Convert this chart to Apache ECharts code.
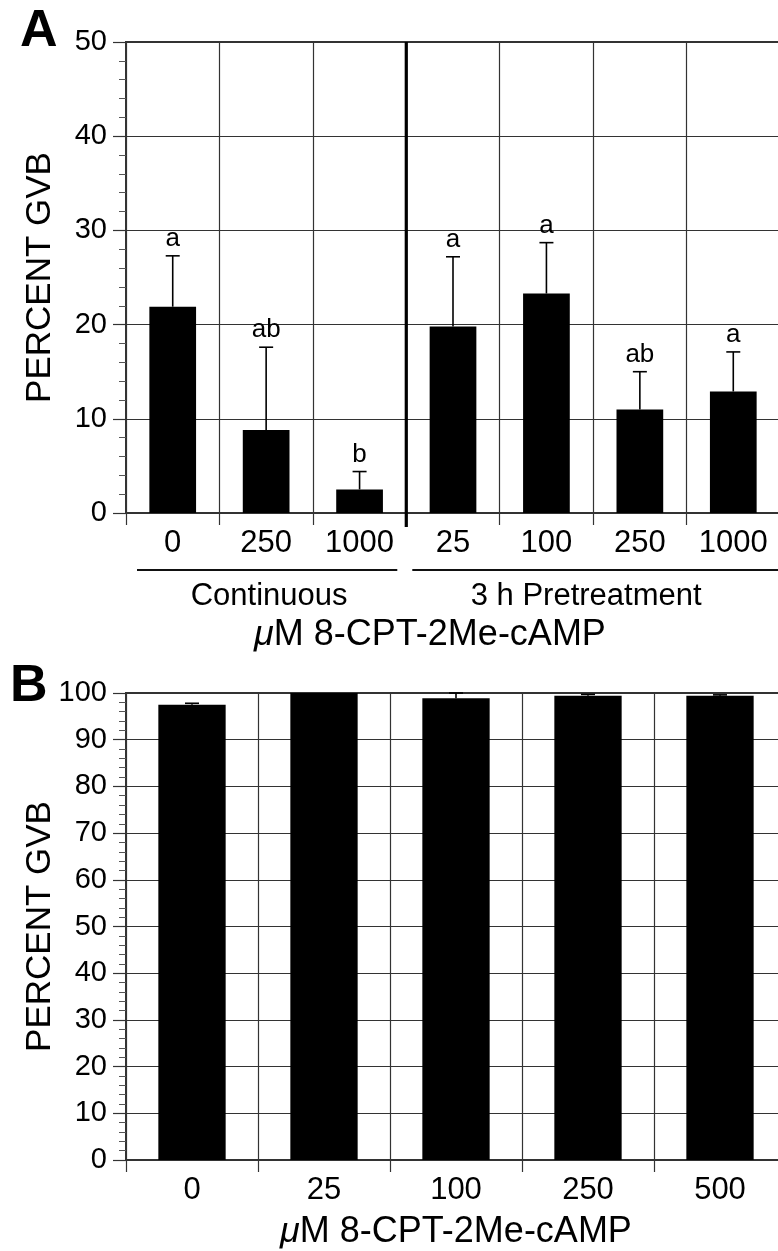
<!DOCTYPE html>
<html>
<head>
<meta charset="utf-8">
<script src="https://cdn.jsdelivr.net/npm/echarts@6/dist/echarts.min.js"></script>
<style>
html,body{margin:0;padding:0;background:#fff;}
#chart{width:778px;height:1251px;}
</style>
</head>
<body>
<div id="chart"></div>
<script>
// ---- Data ----
var catsA = ['0', '250', '1000', '25', '100', '250', '1000'];
var valsA = [21.9, 8.8, 2.5, 19.8, 23.3, 11.0, 12.9];
var errA = [5.4, 8.8, 1.9, 7.4, 5.4, 4.0, 4.2];
var lettersA = ['a', 'ab', 'b', 'a', 'a', 'ab', 'a'];
var groupsA = [[0, 2], [3, 6]];
var groupNamesA = ['Continuous', '3 h Pretreatment'];
var dividerA = [2]; // boundary after this category index

var catsB = ['0', '25', '100', '250', '500'];
var valsB = [97.5, 100, 98.9, 99.4, 99.4];
var errB = [0.3, 0, 1.1, 0.3, 0.2];

var yTicksA = {min: 0, max: 50, interval: 10};
var yTicksB = {min: 0, max: 100, interval: 10};

var xTitle = '{mu|\u03bc}M 8-CPT-2Me-cAMP';
var yTitle = 'PERCENT GVB';

// ---- Build ----
var FF = '"Liberation Sans", Arial, Helvetica, sans-serif';
var LINE = '#333';
var TXT = '#000';

function errData(vals, errs) {
  return vals.map(function (v, i) { return [i, v, v + errs[i]]; });
}

function errRender(letters) {
  return function (params, api) {
    var x = api.value(0), v = api.value(1), e = api.value(2);
    var children = [];
    if (e > v) {
      var p0 = api.coord([x, v]);
      var p1 = api.coord([x, e]);
      children.push({type: 'line', shape: {x1: p0[0], y1: p0[1], x2: p1[0], y2: p1[1]},
        style: {stroke: '#000', lineWidth: 1.6}});
      children.push({type: 'line', shape: {x1: p1[0] - 7, y1: p1[1], x2: p1[0] + 7, y2: p1[1]},
        style: {stroke: '#000', lineWidth: 1.6}});
      if (letters) {
        children.push({type: 'text', x: p1[0], y: p1[1] - 4,
          style: {text: letters[params.dataIndex], fill: TXT, fontSize: 26, fontFamily: FF,
            align: 'center', verticalAlign: 'bottom'}});
      }
    }
    return {type: 'group', children: children};
  };
}

function xAxisCfg(gridIndex, cats, nameGap, namePad) {
  return {
    type: 'category', gridIndex: gridIndex, data: cats,
    boundaryGap: true,
    axisLine: {show: true, lineStyle: {color: LINE, width: 2}},
    axisTick: {show: true, alignWithLabel: false, interval: 0, length: 12, inside: false,
      lineStyle: {color: LINE, width: 1.2}},
    axisLabel: {interval: 0, margin: 15, color: TXT, fontSize: 31, fontFamily: FF},
    splitLine: {show: true, interval: 0, lineStyle: {color: LINE, width: 1.2}},
    name: xTitle, nameLocation: 'middle', nameGap: nameGap, nameMoveOverlap: false,
    nameTextStyle: {color: TXT, fontSize: 36, fontFamily: FF, padding: namePad,
      rich: {mu: {fontStyle: 'italic', fontSize: 36, fontFamily: FF, color: TXT}}}
  };
}

function yAxisCfg(gridIndex, t) {
  return {
    type: 'value', gridIndex: gridIndex, min: t.min, max: t.max, interval: t.interval,
    axisLine: {show: true, lineStyle: {color: LINE, width: 2}},
    axisTick: {show: true, length: 13, inside: false, lineStyle: {color: LINE, width: 1.2}},
    minorTick: {show: true, splitNumber: 5, length: 7, lineStyle: {color: '#555', width: 1}},
    axisLabel: {margin: 19, color: TXT, fontSize: 29, fontFamily: FF},
    splitLine: {show: true, lineStyle: {color: LINE, width: 1.2}},
    name: yTitle, nameLocation: 'middle', nameGap: 68, nameMoveOverlap: false,
    nameTextStyle: {color: TXT, fontSize: 35, fontFamily: FF}
  };
}

var option = {
  backgroundColor: '#fff',
  animation: false,
  title: [
    {text: 'A', left: 15, top: 1, textStyle: {fontSize: 52, fontWeight: 'bold', fontFamily: FF, color: '#000'}},
    {text: 'B', left: 5, top: 656, textStyle: {fontSize: 52, fontWeight: 'bold', fontFamily: FF, color: '#000'}}
  ],
  grid: [
    {left: 126, top: 42, width: 654, height: 471, show: true, borderColor: LINE, borderWidth: 2,
      backgroundColor: 'transparent', outerBoundsMode: 'none', containLabel: false},
    {left: 126, top: 693, width: 660, height: 467, show: true, borderColor: LINE, borderWidth: 2,
      backgroundColor: 'transparent', outerBoundsMode: 'none', containLabel: false}
  ],
  xAxis: [
    xAxisCfg(0, catsA, 104, [0, 46, 0, 0]),
    xAxisCfg(1, catsB, 54, [0, 0, 0, 0])
  ],
  yAxis: [
    yAxisCfg(0, yTicksA),
    yAxisCfg(1, yTicksB)
  ],
  series: [
    {type: 'bar', xAxisIndex: 0, yAxisIndex: 0, data: valsA, barWidth: '50%',
      itemStyle: {color: '#000'}, z: 3},
    {type: 'custom', xAxisIndex: 0, yAxisIndex: 0, data: errData(valsA, errA),
      renderItem: errRender(lettersA), z: 4, clip: false},
    {type: 'custom', xAxisIndex: 0, yAxisIndex: 0, data: dividerA.map(function (d) { return [d]; }),
      clip: false, z: 5,
      renderItem: function (params, api) {
        var i = api.value(0);
        var bw = api.size([1, 0])[0];
        var x = api.coord([i, 0])[0] + bw / 2;
        var yTop = api.coord([i, yTicksA.max])[1];
        var yBot = api.coord([i, yTicksA.min])[1] + 14;
        return {type: 'line', shape: {x1: x, y1: yTop, x2: x, y2: yBot},
          style: {stroke: '#000', lineWidth: 3.2}};
      }},
    {type: 'custom', xAxisIndex: 0, yAxisIndex: 0, data: groupsA, clip: false, z: 5,
      renderItem: function (params, api) {
        var s = api.value(0), e = api.value(1);
        var bw = api.size([1, 0])[0];
        var padL = [11, 6][params.dataIndex];
        var padR = [9, 0][params.dataIndex];
        var shift = [2, -10][params.dataIndex];
        var xa = api.coord([s, 0])[0] - bw / 2 + padL;
        var xb = api.coord([e, 0])[0] + bw / 2 - padR;
        var y0 = api.coord([s, 0])[1];
        return {type: 'group', children: [
          {type: 'line', shape: {x1: xa, y1: y0 + 57, x2: xb, y2: y0 + 57},
            style: {stroke: '#111', lineWidth: 1.8}},
          {type: 'text', x: (xa + xb) / 2 + shift, y: y0 + 83,
            style: {text: groupNamesA[params.dataIndex], fill: TXT, fontSize: 31, fontFamily: FF,
              align: 'center', verticalAlign: 'middle'}}
        ]};
      }},
    {type: 'bar', xAxisIndex: 1, yAxisIndex: 1, data: valsB, barWidth: '51%',
      itemStyle: {color: '#000'}, z: 3},
    {type: 'custom', xAxisIndex: 1, yAxisIndex: 1, data: errData(valsB, errB),
      renderItem: errRender(null), z: 4, clip: false}
  ]
};

var chart = echarts.init(document.getElementById('chart'), null, {renderer: 'canvas'});
chart.setOption(option);
</script>
</body>
</html>
